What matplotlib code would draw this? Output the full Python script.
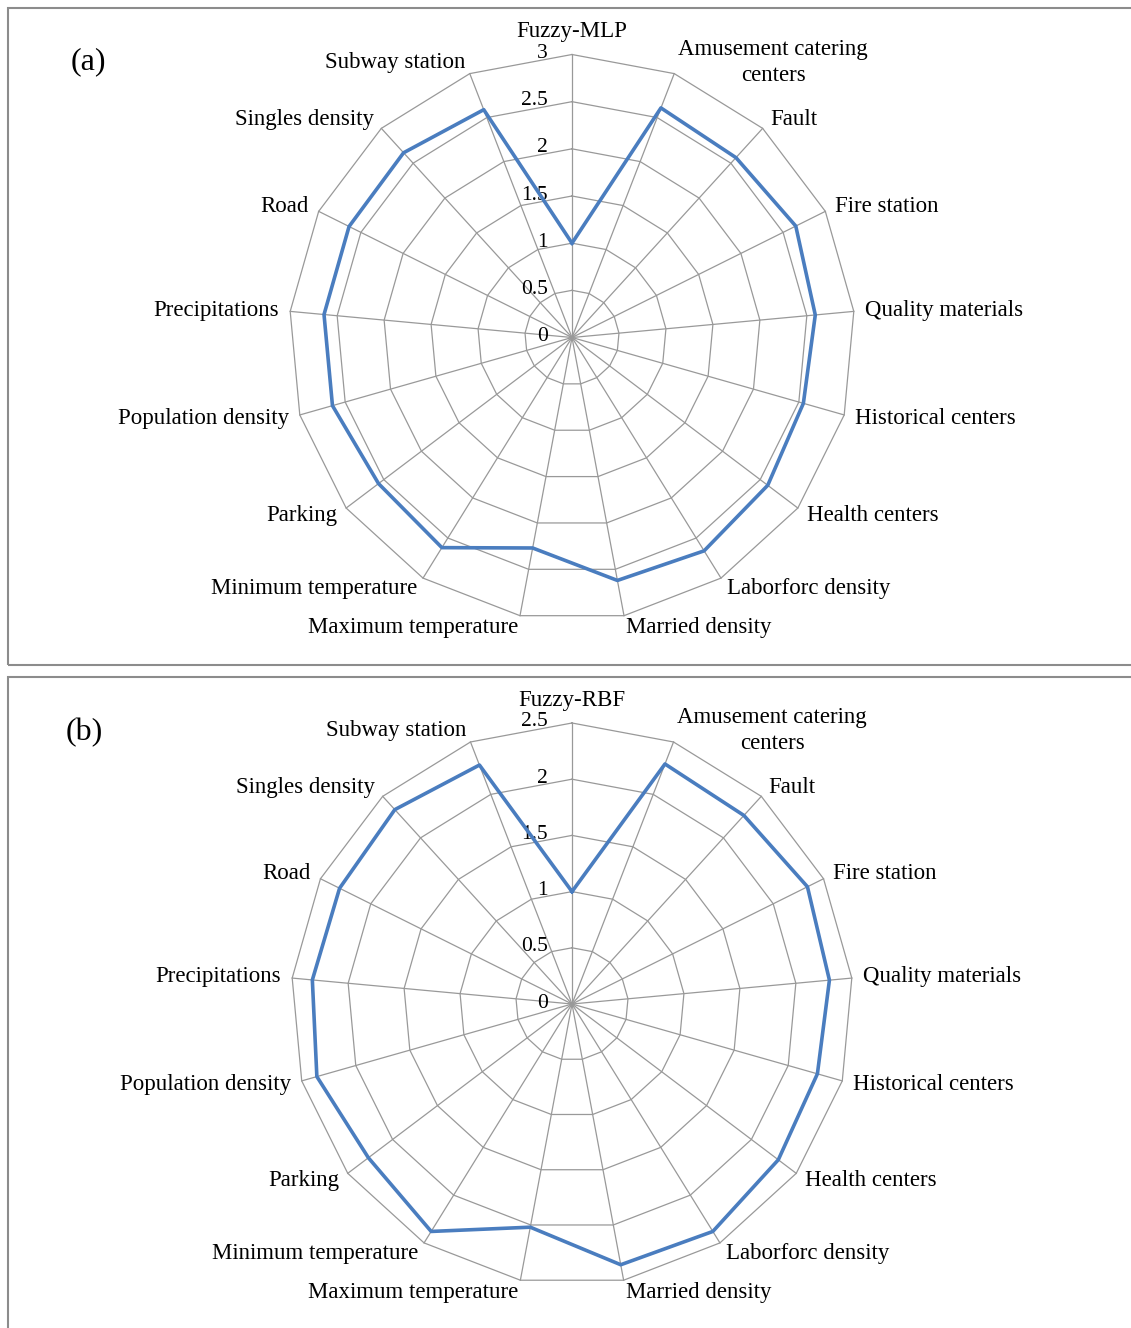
import numpy as np
import matplotlib.pyplot as plt
from matplotlib.patches import Rectangle

# categories (first one differs between the two panels)
categories = ["Amusement catering\ncenters", "Fault", "Fire station", "Quality materials",
              "Historical centers", "Health centers", "Laborforc density", "Married density",
              "Maximum temperature", "Minimum temperature", "Parking", "Population density",
              "Precipitations", "Road", "Singles density", "Subway station"]

# values
mlp_values = [1.0, 2.61, 2.58, 2.65, 2.59, 2.55, 2.60, 2.66, 2.62,
              2.27, 2.62, 2.57, 2.64, 2.64, 2.64, 2.65, 2.59]
rbf_values = [1.0, 2.29, 2.27, 2.34, 2.30, 2.27, 2.30, 2.38, 2.36,
              2.02, 2.38, 2.27, 2.36, 2.32, 2.31, 2.34, 2.28]

mlp_ticks = [0, 0.5, 1, 1.5, 2, 2.5, 3]
rbf_ticks = [0, 0.5, 1, 1.5, 2, 2.5]

W, H = 1131, 1328
GRID = "#999999"
BLUE = "#4a7dbf"
FONT = "Liberation Serif"


def radar(ax, first_label, values, ticks):
    labels = [first_label] + categories
    n = len(labels)
    angles = np.arange(n) * 2 * np.pi / n
    rmax = ticks[-1]

    ax.set_theta_zero_location("N")
    ax.set_theta_direction(-1)
    ax.set_ylim(0, rmax)
    ax.grid(False)
    ax.spines["polar"].set_visible(False)
    ax.set_xticks([])
    ax.set_yticks([])
    ax.patch.set_visible(False)

    closed = np.append(angles, angles[0])
    # polygon rings
    for lev in ticks[1:]:
        ax.plot(closed, [lev] * (n + 1), color=GRID, lw=0.9, clip_on=False, zorder=1)
    # spokes
    for a in angles:
        ax.plot([a, a], [0, rmax], color=GRID, lw=0.9, clip_on=False, zorder=1)

    # radial tick labels along the first spoke
    for lev in ticks:
        ax.annotate(f"{lev:g}", xy=(0, lev), xytext=(-24, 1), textcoords="offset pixels",
                    ha="right", va="center", fontsize=15.5, family=FONT, zorder=2)

    # data line
    ax.plot(closed, np.append(values, values[0]), color=BLUE, lw=2.6,
            clip_on=False, zorder=3)

    # category labels outside the outer ring
    for a, lab in zip(angles, labels):
        s, c = np.sin(a), np.cos(a)
        if abs(s) < 0.01:
            ha, va = "center", "bottom"
        else:
            ha, va = ("left" if s > 0 else "right"), "center"
        ax.annotate(lab, xy=(a, rmax), xytext=(11 * s, 12 * c), textcoords="offset pixels",
                    ha=ha, va=va, multialignment="center", linespacing=1.3,
                    fontsize=16.5, family=FONT)


fig = plt.figure(figsize=(W / 100, H / 100), dpi=100)

# panel frames
fig.add_artist(Rectangle((8 / W, 1 - 665 / H), 1.1, 657 / H, transform=fig.transFigure,
                         fill=False, ec="#8c8c8c", lw=1.5))
fig.add_artist(Rectangle((8 / W, -0.1), 1.1, 0.1 + 1 - 677 / H, transform=fig.transFigure,
                         fill=False, ec="#8c8c8c", lw=1.5))

ax1 = fig.add_axes([(572 - 283) / W, 1 - (337.5 + 283) / H, 566 / W, 566 / H], projection="polar")
radar(ax1, "Fuzzy-MLP", mlp_values, mlp_ticks)

ax2 = fig.add_axes([(572 - 281) / W, 1 - (1004 + 281) / H, 562 / W, 562 / H], projection="polar")
radar(ax2, "Fuzzy-RBF", rbf_values, rbf_ticks)

fig.text(88 / W, 1 - 62 / H, "(a)", ha="center", va="center", fontsize=23, family=FONT)
fig.text(84 / W, 1 - 733 / H, "(b)", ha="center", va="center", fontsize=23, family=FONT)

fig.savefig("out.png", dpi=100)
